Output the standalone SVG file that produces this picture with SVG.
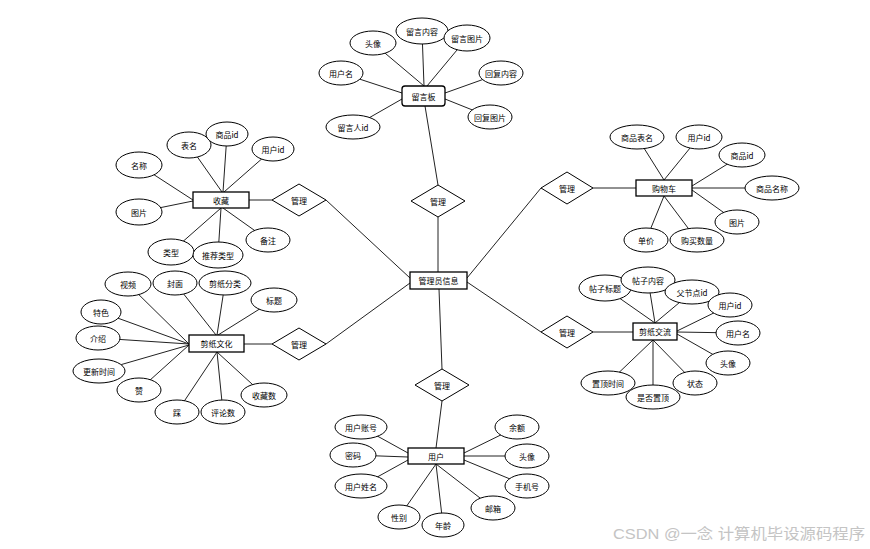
<svg xmlns="http://www.w3.org/2000/svg" width="870" height="549" viewBox="0 0 870 549">
<style>
.e{fill:#fff;stroke:#000;stroke-width:1}
.r{fill:#fff;stroke:#000;stroke-width:1.3}
.d{fill:#fff;stroke:#000;stroke-width:1}
.c line{stroke:#222;stroke-width:1}
text{font-family:"Noto Sans CJK SC","Liberation Sans",sans-serif;font-size:8px;fill:#000;text-anchor:middle;dominant-baseline:central}
.wm{font-family:"Liberation Sans","Noto Sans CJK SC",sans-serif;font-size:15px;fill:#c4c4c4;text-anchor:start;dominant-baseline:auto}
</style>
<rect width="870" height="549" fill="#fff"/>
<g class="c" id="connectors">
<line x1="373" y1="43" x2="424" y2="86"/>
<line x1="422" y1="31" x2="424" y2="86"/>
<line x1="467" y1="38" x2="427" y2="86"/>
<line x1="341" y1="73" x2="402" y2="93"/>
<line x1="501" y1="73" x2="445" y2="93"/>
<line x1="490" y1="117" x2="445" y2="99"/>
<line x1="353" y1="127" x2="402" y2="99"/>
<line x1="425" y1="106" x2="438" y2="185"/>
<line x1="438" y1="217" x2="438" y2="272"/>
<line x1="410" y1="278" x2="326" y2="200"/>
<line x1="410" y1="283" x2="326" y2="344"/>
<line x1="467" y1="278" x2="541" y2="188"/>
<line x1="467" y1="282" x2="541" y2="332"/>
<line x1="439" y1="289" x2="442" y2="369"/>
<line x1="249" y1="200" x2="272" y2="200"/>
<line x1="139" y1="165" x2="193" y2="200"/>
<line x1="189" y1="145" x2="222" y2="192"/>
<line x1="227" y1="134" x2="223" y2="192"/>
<line x1="273" y1="149" x2="224" y2="192"/>
<line x1="139" y1="212" x2="193" y2="201"/>
<line x1="171" y1="252" x2="221" y2="208"/>
<line x1="218" y1="255" x2="221" y2="208"/>
<line x1="268" y1="240" x2="223" y2="208"/>
<line x1="244" y1="344" x2="272" y2="344"/>
<line x1="128" y1="284" x2="189" y2="344"/>
<line x1="175" y1="283" x2="216" y2="335"/>
<line x1="225" y1="283" x2="217" y2="335"/>
<line x1="274" y1="300" x2="218" y2="335"/>
<line x1="101" y1="312" x2="189" y2="344"/>
<line x1="98" y1="338" x2="189" y2="344"/>
<line x1="99" y1="371" x2="189" y2="345"/>
<line x1="139" y1="390" x2="189" y2="345"/>
<line x1="177" y1="412" x2="217" y2="352"/>
<line x1="223" y1="412" x2="217" y2="352"/>
<line x1="264" y1="395" x2="217" y2="352"/>
<line x1="593" y1="188" x2="636" y2="188"/>
<line x1="637" y1="137" x2="664" y2="180"/>
<line x1="699" y1="137" x2="664" y2="180"/>
<line x1="742" y1="155" x2="692" y2="186"/>
<line x1="772" y1="188" x2="692" y2="188"/>
<line x1="737" y1="222" x2="692" y2="190"/>
<line x1="646" y1="240" x2="664" y2="196"/>
<line x1="697" y1="240" x2="664" y2="196"/>
<line x1="593" y1="332" x2="633" y2="332"/>
<line x1="605" y1="288" x2="655" y2="323"/>
<line x1="648" y1="280" x2="655" y2="323"/>
<line x1="692" y1="292" x2="655" y2="323"/>
<line x1="730" y1="305" x2="677" y2="331"/>
<line x1="738" y1="333" x2="677" y2="332"/>
<line x1="728" y1="363" x2="677" y2="334"/>
<line x1="608" y1="383" x2="653" y2="340"/>
<line x1="653" y1="397" x2="653" y2="340"/>
<line x1="695" y1="383" x2="653" y2="340"/>
<line x1="442" y1="401" x2="436" y2="448"/>
<line x1="361" y1="427" x2="408" y2="453"/>
<line x1="353" y1="455" x2="408" y2="457"/>
<line x1="361" y1="486" x2="408" y2="460"/>
<line x1="399" y1="517" x2="436" y2="464"/>
<line x1="443" y1="525" x2="436" y2="464"/>
<line x1="493" y1="508" x2="436" y2="464"/>
<line x1="527" y1="486" x2="464" y2="460"/>
<line x1="527" y1="456" x2="464" y2="456"/>
<line x1="517" y1="427" x2="464" y2="453"/>
</g>

<g id="lyb"><rect class="r" x="402" y="86" width="43" height="20" rx="3"/><text x="423.5" y="96">留言板</text></g>
<g id="lyb-tx"><ellipse class="e" cx="373" cy="43" rx="23" ry="12"/><text x="373" y="43">头像</text></g>
<g id="lyb-nr"><ellipse class="e" cx="422" cy="31" rx="26" ry="13"/><text x="422" y="31">留言内容</text></g>
<g id="lyb-tp"><ellipse class="e" cx="467" cy="38" rx="23" ry="13"/><text x="467" y="38">留言图片</text></g>
<g id="lyb-yhm"><ellipse class="e" cx="341" cy="73" rx="22" ry="12"/><text x="341" y="73">用户名</text></g>
<g id="lyb-hfnr"><ellipse class="e" cx="501" cy="73" rx="22" ry="12"/><text x="501" y="73">回复内容</text></g>
<g id="lyb-hftp"><ellipse class="e" cx="490" cy="117" rx="22" ry="12"/><text x="490" y="117">回复图片</text></g>
<g id="lyb-lyrid"><ellipse class="e" cx="353" cy="127" rx="27" ry="12"/><text x="353" y="127">留言人id</text></g>

<g id="gl-top"><polygon class="d" points="438,185 465,201 438,217 411,201"/><text x="438" y="201">管理</text></g>
<g id="admin"><rect class="r" x="410" y="272" width="57" height="17"/><text x="438.5" y="280.5">管理员信息</text></g>

<g id="gl-sc"><polygon class="d" points="299,184 326,200 299,216 272,200"/><text x="299" y="200">管理</text></g>
<g id="sc"><rect class="r" x="193" y="192" width="56" height="16"/><text x="221" y="200">收藏</text></g>
<g id="sc-mc"><ellipse class="e" cx="139" cy="165" rx="23" ry="13"/><text x="139" y="165">名称</text></g>
<g id="sc-bm"><ellipse class="e" cx="189" cy="145" rx="22" ry="13"/><text x="189" y="145">表名</text></g>
<g id="sc-spid"><ellipse class="e" cx="227" cy="134" rx="21" ry="12"/><text x="227" y="134">商品id</text></g>
<g id="sc-yhid"><ellipse class="e" cx="273" cy="149" rx="21" ry="12"/><text x="273" y="149">用户id</text></g>
<g id="sc-tp"><ellipse class="e" cx="139" cy="212" rx="23" ry="13"/><text x="139" y="212">图片</text></g>
<g id="sc-lx"><ellipse class="e" cx="171" cy="252" rx="23" ry="13"/><text x="171" y="252">类型</text></g>
<g id="sc-tjlx"><ellipse class="e" cx="218" cy="255" rx="25" ry="13"/><text x="218" y="255">推荐类型</text></g>
<g id="sc-bz"><ellipse class="e" cx="268" cy="240" rx="22" ry="12"/><text x="268" y="240">备注</text></g>

<g id="gl-wh"><polygon class="d" points="299,328 326,344 299,360 272,344"/><text x="299" y="344">管理</text></g>
<g id="wh"><rect class="r" x="189" y="335" width="55" height="17"/><text x="216.5" y="343.5">剪纸文化</text></g>
<g id="wh-sp"><ellipse class="e" cx="128" cy="284" rx="23" ry="12"/><text x="128" y="284">视频</text></g>
<g id="wh-fm"><ellipse class="e" cx="175" cy="283" rx="22" ry="12"/><text x="175" y="283">封面</text></g>
<g id="wh-fl"><ellipse class="e" cx="225" cy="283" rx="26" ry="12"/><text x="225" y="283">剪纸分类</text></g>
<g id="wh-bt"><ellipse class="e" cx="274" cy="300" rx="23" ry="12"/><text x="274" y="300">标题</text></g>
<g id="wh-ts"><ellipse class="e" cx="101" cy="312" rx="20" ry="12"/><text x="101" y="312">特色</text></g>
<g id="wh-js"><ellipse class="e" cx="98" cy="338" rx="22" ry="12"/><text x="98" y="338">介绍</text></g>
<g id="wh-gxsj"><ellipse class="e" cx="99" cy="371" rx="26" ry="12"/><text x="99" y="371">更新时间</text></g>
<g id="wh-z"><ellipse class="e" cx="139" cy="390" rx="22" ry="12"/><text x="139" y="390">赞</text></g>
<g id="wh-c"><ellipse class="e" cx="177" cy="412" rx="22" ry="12"/><text x="177" y="412">踩</text></g>
<g id="wh-pls"><ellipse class="e" cx="223" cy="412" rx="22" ry="12"/><text x="223" y="412">评论数</text></g>
<g id="wh-scs"><ellipse class="e" cx="264" cy="395" rx="23" ry="12"/><text x="264" y="395">收藏数</text></g>

<g id="gl-gwc"><polygon class="d" points="567,172 593,188 567,204 541,188"/><text x="567" y="188">管理</text></g>
<g id="gwc"><rect class="r" x="636" y="180" width="56" height="16"/><text x="664" y="188">购物车</text></g>
<g id="gwc-spbm"><ellipse class="e" cx="637" cy="137" rx="27" ry="12"/><text x="637" y="137">商品表名</text></g>
<g id="gwc-yhid"><ellipse class="e" cx="699" cy="137" rx="23" ry="12"/><text x="699" y="137">用户id</text></g>
<g id="gwc-spid"><ellipse class="e" cx="742" cy="155" rx="23" ry="12"/><text x="742" y="155">商品id</text></g>
<g id="gwc-spmc"><ellipse class="e" cx="772" cy="188" rx="27" ry="12"/><text x="772" y="188">商品名称</text></g>
<g id="gwc-tp"><ellipse class="e" cx="737" cy="222" rx="22" ry="12"/><text x="737" y="222">图片</text></g>
<g id="gwc-dj"><ellipse class="e" cx="646" cy="240" rx="22" ry="12"/><text x="646" y="240">单价</text></g>
<g id="gwc-gmsl"><ellipse class="e" cx="697" cy="240" rx="27" ry="12"/><text x="697" y="240">购买数量</text></g>

<g id="gl-jl"><polygon class="d" points="567,316 593,332 567,348 541,332"/><text x="567" y="332">管理</text></g>
<g id="jl"><rect class="r" x="633" y="323" width="44" height="17"/><text x="655" y="331.5">剪纸交流</text></g>
<g id="jl-tzbt"><ellipse class="e" cx="605" cy="288" rx="26" ry="13"/><text x="605" y="288">帖子标题</text></g>
<g id="jl-tznr"><ellipse class="e" cx="648" cy="280" rx="27" ry="13"/><text x="648" y="280">帖子内容</text></g>
<g id="jl-fjdid"><ellipse class="e" cx="692" cy="292" rx="27" ry="12"/><text x="692" y="292">父节点id</text></g>
<g id="jl-yhid"><ellipse class="e" cx="730" cy="305" rx="22" ry="12"/><text x="730" y="305">用户id</text></g>
<g id="jl-yhm"><ellipse class="e" cx="738" cy="333" rx="22" ry="12"/><text x="738" y="333">用户名</text></g>
<g id="jl-tx"><ellipse class="e" cx="728" cy="363" rx="22" ry="12"/><text x="728" y="363">头像</text></g>
<g id="jl-zdsj"><ellipse class="e" cx="608" cy="383" rx="27" ry="12"/><text x="608" y="383">置顶时间</text></g>
<g id="jl-zt"><ellipse class="e" cx="695" cy="383" rx="22" ry="12"/><text x="695" y="383">状态</text></g>
<g id="jl-sfzd"><ellipse class="e" cx="653" cy="397" rx="27" ry="12"/><text x="653" y="397">是否置顶</text></g>

<g id="gl-yh"><polygon class="d" points="442,369 469,385 442,401 415,385"/><text x="442" y="385">管理</text></g>
<g id="yh"><rect class="r" x="408" y="448" width="56" height="16"/><text x="436" y="456">用户</text></g>
<g id="yh-zh"><ellipse class="e" cx="361" cy="427" rx="26" ry="12"/><text x="361" y="427">用户账号</text></g>
<g id="yh-mm"><ellipse class="e" cx="353" cy="455" rx="23" ry="12"/><text x="353" y="455">密码</text></g>
<g id="yh-xm"><ellipse class="e" cx="361" cy="486" rx="26" ry="12"/><text x="361" y="486">用户姓名</text></g>
<g id="yh-xb"><ellipse class="e" cx="399" cy="517" rx="21" ry="12"/><text x="399" y="517">性别</text></g>
<g id="yh-nl"><ellipse class="e" cx="443" cy="525" rx="21" ry="12"/><text x="443" y="525">年龄</text></g>
<g id="yh-yx"><ellipse class="e" cx="493" cy="508" rx="22" ry="12"/><text x="493" y="508">邮箱</text></g>
<g id="yh-sjh"><ellipse class="e" cx="527" cy="486" rx="22" ry="12"/><text x="527" y="486">手机号</text></g>
<g id="yh-tx"><ellipse class="e" cx="527" cy="456" rx="22" ry="12"/><text x="527" y="456">头像</text></g>
<g id="yh-ye"><ellipse class="e" cx="517" cy="427" rx="22" ry="12"/><text x="517" y="427">余额</text></g>

<text class="wm" x="613" y="539" textLength="252" lengthAdjust="spacingAndGlyphs">CSDN @一念 计算机毕设源码程序</text>
</svg>
